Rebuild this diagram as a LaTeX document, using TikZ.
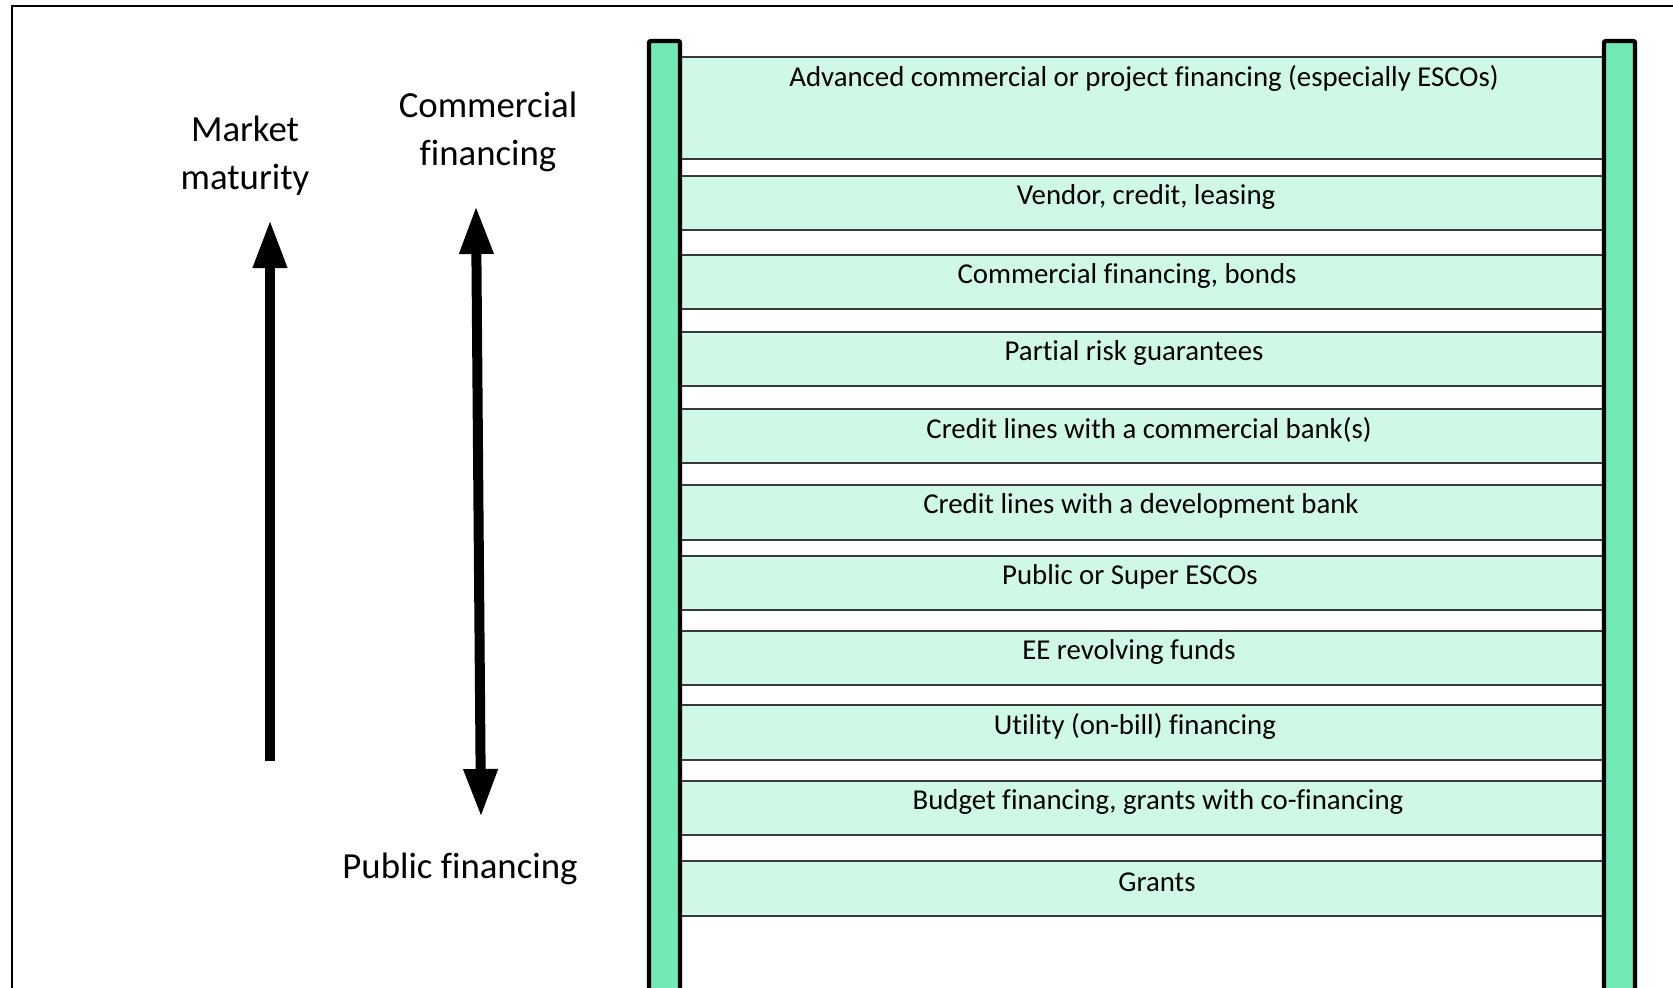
\documentclass[tikz,border=0pt]{standalone}
\usepackage{fontspec}
\setmainfont[Ligatures=NoCommon]{Carlito}
\usetikzlibrary{arrows.meta}

\definecolor{railgreen}{HTML}{72EAB5}
\definecolor{bargreen}{HTML}{D0F8E6}
\definecolor{bargray}{HTML}{3A3A3A}

\begin{document}
\begin{tikzpicture}[x=0.5pt,y=-0.5pt,
    bar/.style={fill=bargreen, draw=bargray, line width=0.7pt},
    rail/.style={fill=railgreen, draw=black, line width=2.2pt, rounded corners=1pt},
    bartext/.style={font=\fontsize{14.4}{17}\selectfont, inner sep=0pt},
    sidetext/.style={font=\fontsize{18.4}{24}\selectfont, align=center, inner sep=0pt},
    bigarrow/.style={line width=5pt}]
  \useasboundingbox (0,0) rectangle (1673,987);
  \clip (0,0) rectangle (1673,987);
  % frame
  \draw[line width=1pt] (12,1000) -- (12,6) -- (1690,6);
  % rungs
  \foreach \t/\b/\x/\txt [count=\i] in {
      57/159/1144/{Advanced commercial or project financing (especially ESCOs)},
      176/230/1146/{Vendor, credit, leasing},
      255/309/1127/{Commercial financing, bonds},
      332/386/1134/{Partial risk guarantees},
      409/463/1149/{Credit lines with a commercial bank(s)},
      485/540/1141/{Credit lines with a development bank},
      556/610/1130/{Public or Super ESCOs},
      631/685/1129/{EE revolving funds},
      705/760/1135/{Utility (on-bill) financing},
      781/835/1158/{Budget financing, grants with co-financing},
      861/916/1157/{Grants}} {
    \draw[bar] (670,\t) rectangle (1615,\b);
    \node[bartext] (rung\i) at (\x,\t+21) {\txt};
  }
  % rails
  \draw[rail] (649,1010) -- (649,41) -- (680,41) -- (680,1010);
  \draw[rail] (1604,1010) -- (1604,41) -- (1635,41) -- (1635,1010);
  % labels
  \node[sidetext] (maturity) at (245,156) {Market\\maturity};
  \node[sidetext] (commercial) at (488,132) {Commercial\\financing};
  \node[sidetext] (public) at (460,869) {Public financing};
  % arrows
  \coordinate (maturitytop) at (270,220);
  \coordinate (maturitybottom) at (270,761);
  \coordinate (commercialtop) at (476,206);
  \coordinate (publicbottom) at (481,817);
  \draw[bigarrow, -{Triangle[width=16pt,length=24pt]}] (maturitybottom) -- (maturitytop);
  \draw[bigarrow, {Triangle[width=16pt,length=24pt]}-{Triangle[width=16pt,length=24pt]}] (commercialtop) -- (publicbottom);
\end{tikzpicture}
\end{document}
